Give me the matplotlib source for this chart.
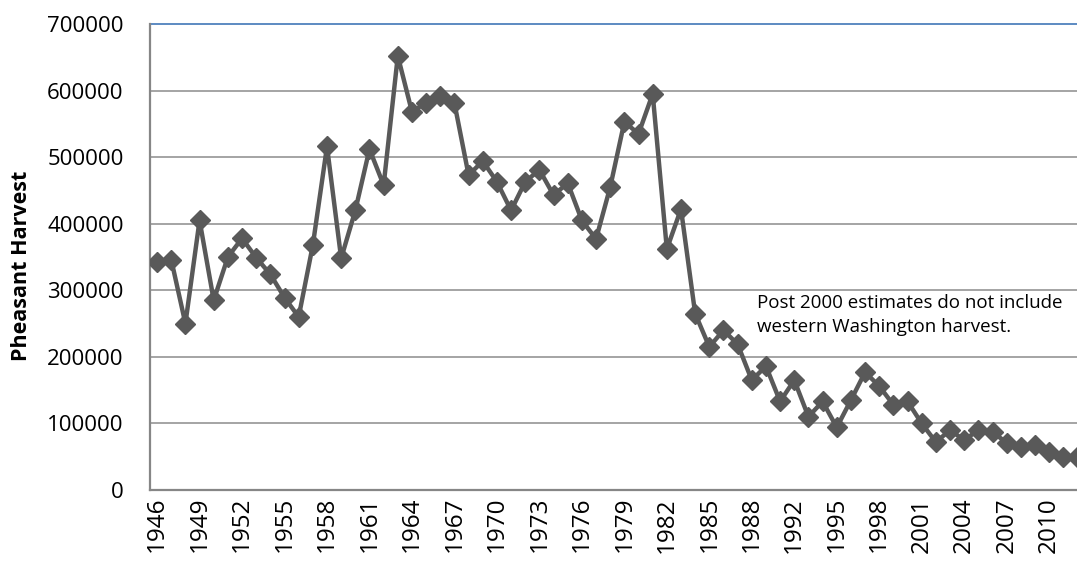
import numpy as np
import matplotlib
matplotlib.use("Agg")
import matplotlib.pyplot as plt

plt.rcParams['font.family'] = ['Open Sans', 'DejaVu Sans']

# harvest years (one year between 1988 and 1992 is missing in the source)
years = list(range(1946, 1989)) + [1989, 1990] + list(range(1992, 2013))

harvest = [
    343000, 346000, 250000, 405000, 285000, 350000, 378000, 349000, 324000, 289000,
    260000, 368000, 516000, 348000, 420000, 512000, 458000, 652000, 568000, 582000,
    592000, 581000, 473000, 494000, 463000, 420000, 463000, 481000, 443000, 461000,
    405000, 377000, 455000, 553000, 535000, 595000, 362000, 422000, 265000, 215000,
    240000, 219000, 165000, 186000, 133000, 165000, 110000, 133000, 94000, 135000,
    177000, 156000, 128000, 133000, 100000, 72000, 90000, 75000, 90000, 87000,
    71000, 64000, 67000, 57000, 50000, 50000,
]

y_ticks = [0, 100000, 200000, 300000, 400000, 500000, 600000, 700000]
note = "Post 2000 estimates do not include\nwestern Washington harvest."

fig = plt.figure(figsize=(10.77, 5.62), dpi=100)
ax = fig.add_axes([150/1077, 72/562, 1 - 150/1077, (490-24)/562])

x = np.arange(len(years))
ax.plot(x, harvest, color='#595959', lw=3.2, marker='D', ms=10,
        markerfacecolor='#595959', markeredgecolor='#595959', zorder=3)

ax.set_ylim(0, 700000)
ax.set_xlim(-0.5, -0.5 + (1077-150)/14.16)
ax.set_yticks(y_ticks)
ax.set_yticklabels([str(v) for v in y_ticks], fontsize=16)
ax.set_xticks(x[::3])
ax.set_xticklabels([str(years[i]) for i in x[::3]], rotation=90, fontsize=17.5)
ax.tick_params(axis='y', length=0, pad=19)
ax.tick_params(axis='x', length=0, pad=5)

for v in y_ticks[1:-1]:
    ax.axhline(v, color='#8c8c8c', lw=1.1, zorder=1)
ax.axhline(700000, color='#4f81bd', lw=1.3, zorder=1, clip_on=False)

for s in ['top', 'right']:
    ax.spines[s].set_visible(False)
ax.spines['left'].set_color('#868686')
ax.spines['bottom'].set_color('#868686')
ax.spines['left'].set_linewidth(1.6)
ax.spines['bottom'].set_linewidth(1.6)

fig.text(22/1077, 1 - 266/562, 'Pheasant Harvest', rotation=90, ha='center',
         va='center', fontsize=15.5, fontweight='bold')

ax.text(42.4, 294000, note, fontsize=13.5, va='top', ha='left', linespacing=1.4)

fig.savefig('out.png', dpi=100)
